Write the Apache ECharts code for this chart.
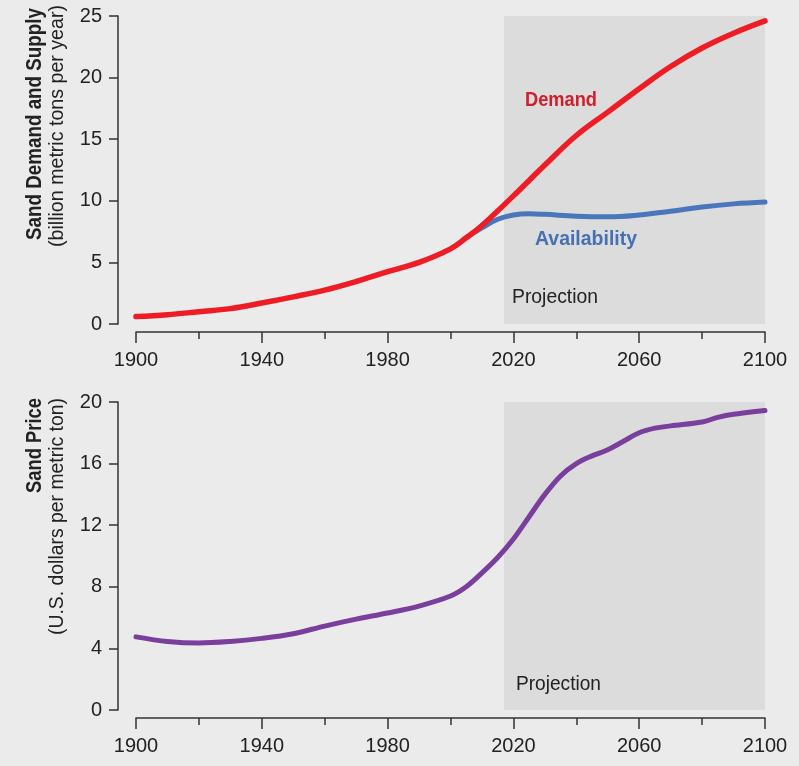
<!DOCTYPE html>
<html>
<head>
<meta charset="utf-8">
<script src="https://cdn.jsdelivr.net/npm/echarts@6/dist/echarts.min.js"></script>
<style>
html,body{margin:0;padding:0;background:#ebebeb;}
#c{width:799px;height:766px;}
</style>
</head>
<body>
<div id="c"></div>
<script>
// ---- data ----
var BASE_YEAR = 1900;
var xTickLabels = [1900, 1940, 1980, 2020, 2060, 2100];
var demandYears = [1900,1910,1920,1930,1940,1950,1960,1970,1980,1990,2000,2005,2010,2020,2030,2040,2050,2060,2070,2080,2090,2100];
var demandValues = [0.6,0.75,1.0,1.25,1.7,2.2,2.75,3.45,4.25,5.0,6.1,7.0,8.0,10.4,12.9,15.3,17.2,19.1,20.9,22.4,23.6,24.6];
var availYears = [2005,2010,2015,2020,2025,2030,2040,2050,2060,2070,2080,2090,2100];
var availValues = [7.0,7.8,8.5,8.85,8.95,8.9,8.75,8.7,8.85,9.15,9.5,9.75,9.9];
var priceYears = [1900,1910,1920,1930,1940,1950,1960,1970,1980,1990,2000,2005,2010,2015,2020,2025,2030,2035,2040,2045,2050,2055,2060,2065,2070,2080,2085,2090,2100];
var priceValues = [4.75,4.45,4.35,4.45,4.65,4.95,5.45,5.9,6.3,6.75,7.4,8.0,8.9,9.9,11.1,12.55,14.0,15.2,16.0,16.5,16.9,17.45,18.0,18.3,18.45,18.7,19.0,19.2,19.45];
var projectionStart = 2017;
var projectionEnd = 2100;

function pts(years, vals){ return years.map(function(y,i){ return [y - BASE_YEAR, vals[i]]; }); }

var FONT = "'Liberation Sans',Arial,sans-serif";
var AX = '#333';

var mctx = document.createElement('canvas').getContext('2d');
function fit(text, font, target){
  mctx.font = font;
  return target / mctx.measureText(text).width;
}

function xAxisDef(gi){
  return {
    type:'value', gridIndex:gi, min:0, max:200, interval:40, offset:8,
    axisLine:{show:true, onZero:false, lineStyle:{color:AX, width:1.5}},
    axisTick:{show:true, length:11, lineStyle:{color:AX, width:1.5}},
    minorTick:{show:true, splitNumber:2, length:7, lineStyle:{color:AX, width:1.5}},
    splitLine:{show:false},
    axisLabel:{color:'#222', fontFamily:FONT, fontSize:20, margin:18,
      formatter:function(v){ return String(v + BASE_YEAR); }}
  };
}
function yAxisDef(gi, max, interval){
  return {
    type:'value', gridIndex:gi, min:0, max:max, interval:interval, offset:18,
    axisLine:{show:true, onZero:false, lineStyle:{color:AX, width:1.5}},
    axisTick:{show:true, length:9, lineStyle:{color:AX, width:1.5}},
    splitLine:{show:false},
    axisLabel:{color:'#222', fontFamily:FONT, fontSize:20, margin:16}
  };
}
function projArea(){
  return {
    silent:true,
    itemStyle:{color:'#dcdcdc'},
    data:[[{xAxis: projectionStart - BASE_YEAR}, {xAxis: projectionEnd - BASE_YEAR}]]
  };
}

function txt(text, x, y, bold, size, color, target, rot){
  var font = (bold ? 'bold ' : '') + size + 'px ' + FONT;
  var s = fit(text, font, target);
  var el = {type:'text', x:x, y:y, z:100, scaleX:s,
    style:{text:text, fill:color, fontFamily:FONT, fontSize:size, fontWeight:bold?'bold':'normal',
      align: rot ? 'right' : 'left', verticalAlign:'top'}};
  if (rot) el.rotation = Math.PI/2;
  return el;
}

var chart = echarts.init(document.getElementById('c'), null, {renderer:'canvas'});
chart.setOption({
  backgroundColor:'#ebebeb',
  animation:false,
  grid:[
    {left:136, right:34, top:16, height:308},
    {left:136, right:34, top:402, height:308}
  ],
  xAxis:[xAxisDef(0), xAxisDef(1)],
  yAxis:[yAxisDef(0,25,5), yAxisDef(1,20,4)],
  series:[
    {type:'line', xAxisIndex:0, yAxisIndex:0, data:[], markArea:projArea(), z:1},
    {type:'line', name:'Availability', xAxisIndex:0, yAxisIndex:0, data:pts(availYears, availValues),
      smooth:0.4, showSymbol:false, lineStyle:{color:'#4a76bc', width:5, cap:'round'}, z:3},
    {type:'line', name:'Demand', xAxisIndex:0, yAxisIndex:0, data:pts(demandYears, demandValues),
      smooth:0.4, showSymbol:false, lineStyle:{color:'#ee1d25', width:5.5, cap:'round'}, z:4},
    {type:'line', xAxisIndex:1, yAxisIndex:1, data:[], markArea:projArea(), z:1},
    {type:'line', name:'Price', xAxisIndex:1, yAxisIndex:1, data:pts(priceYears, priceValues),
      smooth:0.35, showSymbol:false, lineStyle:{color:'#7a3f9d', width:5, cap:'round'}, z:4}
  ],
  graphic:[
    txt('Demand', 525, 90, true, 21, '#cf1f2b', 72, false),
    txt('Availability', 535, 229, true, 21, '#4670b4', 102, false),
    txt('Projection', 512, 287, false, 21, '#222', 86, false),
    txt('Projection', 516, 674, false, 21, '#222', 85, false),
    txt('Sand Demand and Supply', 24, 8, true, 22, '#222', 232, true),
    txt('(billion metric tons per year)', 47, 5, false, 21, '#222', 242, true),
    txt('Sand Price', 24, 398, true, 22, '#222', 95, true),
    txt('(U.S. dollars per metric ton)', 47, 398, false, 21, '#222', 237, true)
  ]
});
</script>
</body>
</html>
